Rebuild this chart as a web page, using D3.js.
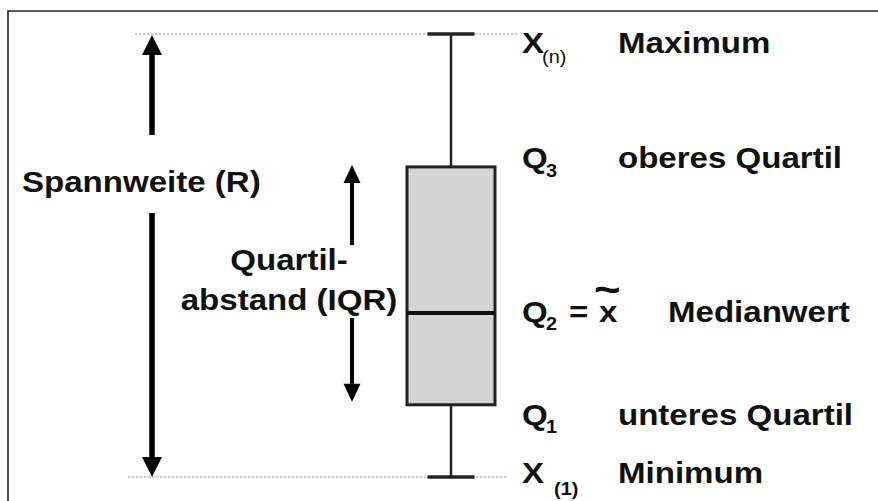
<!DOCTYPE html>
<html><head><meta charset="utf-8">
<script src="https://cdn.jsdelivr.net/npm/d3@7"></script>
<style>
html,body{margin:0;padding:0;background:#fff;}
svg{display:block;}
text{font-family:"Liberation Sans",Arial,sans-serif;font-weight:bold;fill:#111;}
</style></head>
<body>
<svg id="c" width="878" height="501"></svg>
<script>
// ---- data (schematic box plot, values on 0..100 scale) ----
const categories = ["Verteilung"];
const statKeys   = ["min", "q1", "median", "q3", "max"];
const statValues = [0, 16.3, 37, 70, 100];
const statLabels = ["Minimum", "unteres Quartil", "Medianwert", "oberes Quartil", "Maximum"];
const symbolMain = ["X", "Q", "Q", "Q", "X"];
const symbolSub  = ["(1)", "1", "2", "3", "(n)"];
const rangeLabel = ["Spannweite (R)"];
const iqrLabel   = ["Quartil-", "abstand (IQR)"];

const S = {};
statKeys.forEach((k, i) => S[k] = statValues[i]);

const svg = d3.select("#c");
const y = d3.scaleLinear().domain([0, 100]).range([477, 34]);
const x = d3.scaleBand().domain(categories).range([407, 495]);
const cx = x(categories[0]) + x.bandwidth() / 2;
const SX = 1.14;

// frame
svg.append("path").attr("d", "M8,501V11H878").attr("fill", "none")
  .attr("stroke", "#222").attr("stroke-width", 1.6);

// dotted reference lines at max & min
[[S.max, 135, 517], [S.min, 128, 507]].forEach(([v, x0, x1]) => {
  svg.append("line").attr("x1", x0).attr("x2", x1).attr("y1", y(v)).attr("y2", y(v))
    .attr("stroke", "#9a9a9a").attr("stroke-width", 1.2).attr("stroke-dasharray", "2.5,1.5");
});

// whiskers
svg.append("line").attr("x1", cx).attr("x2", cx).attr("y1", y(S.max)).attr("y2", y(S.q3))
  .attr("stroke", "#222").attr("stroke-width", 2.5);
svg.append("line").attr("x1", cx).attr("x2", cx).attr("y1", y(S.q1)).attr("y2", y(S.min))
  .attr("stroke", "#222").attr("stroke-width", 2.5);
[S.max, S.min].forEach(v => {
  svg.append("line").attr("x1", cx - 23.5).attr("x2", cx + 23.5).attr("y1", y(v)).attr("y2", y(v))
    .attr("stroke", "#222").attr("stroke-width", 3.5);
});

// box
svg.append("rect").attr("x", x(categories[0])).attr("width", x.bandwidth())
  .attr("y", y(S.q3)).attr("height", y(S.q1) - y(S.q3))
  .attr("fill", "#d4d4d4").attr("stroke", "#222").attr("stroke-width", 3);
svg.append("line").attr("x1", x(categories[0])).attr("x2", x(categories[0]) + x.bandwidth())
  .attr("y1", y(S.median)).attr("y2", y(S.median))
  .attr("stroke", "#111").attr("stroke-width", 4);

// arrows
function arrow(ax, tipY, fromY, up, shaftW, headW, headH) {
  const baseY = up ? tipY + headH : tipY - headH;
  svg.append("line").attr("x1", ax).attr("x2", ax).attr("y1", fromY).attr("y2", baseY)
    .attr("stroke", "#000").attr("stroke-width", shaftW);
  svg.append("path").attr("d", `M${ax},${tipY}L${ax - headW / 2},${baseY}L${ax + headW / 2},${baseY}Z`)
    .attr("fill", "#000");
}
arrow(152, y(S.max) + 1, 135, true, 5.5, 20, 20);
arrow(152, y(S.min), 213, false, 5.5, 20, 20);
arrow(352, y(S.q3) - 2, 245, true, 4, 17, 18);
arrow(352, y(S.q1) - 3, 318, false, 4, 17, 18);

// stretched text helper
function txt(str, tx, ty, size, anchor) {
  return svg.append("text").text(str)
    .attr("transform", `translate(${tx},${ty}) scale(${SX},1)`)
    .attr("font-size", size).attr("text-anchor", anchor || "start");
}

// left labels
txt(rangeLabel[0], 22, 192, 29);
txt(iqrLabel[0], 289, 270, 29, "middle");
txt(iqrLabel[1], 289, 310, 29, "middle");

// right labels
const labelY   = statKeys.map(k => y(S[k]));
const baseOff  = [6, 20, 9, 1, 19];     // baseline offsets relative to stat position
const subDX    = [32, 24, 24, 24, 20];
const subDY    = [12, 8, 8, 9, 10];
const descX    = [618, 618, 668, 618, 618];
statKeys.forEach((k, i) => {
  const by = labelY[i] + baseOff[i];
  txt(symbolMain[i], 522, by, 29);
  svg.append("text").text(symbolSub[i])
    .attr("transform", `translate(${522 + subDX[i]},${by + subDY[i]}) scale(1.05,1)`)
    .attr("font-size", 19).style("font-weight", k === "max" ? "normal" : "bold");
  txt(statLabels[i], descX[i], by, 29);
});
// "= x~" for the median, as one text element
const my = labelY[2] + baseOff[2];
const eq = svg.append("text")
  .attr("transform", `translate(569,${my}) scale(${SX},1)`)
  .attr("font-size", 29);
eq.append("tspan").attr("x", 0).attr("y", 0).text("=");
eq.append("tspan").attr("x", (599 - 569) / SX).attr("y", 0).text("x");
eq.append("tspan").attr("x", (594 - 569) / SX).attr("y", -19).attr("font-size", 40).text("~");
</script>
</body></html>
